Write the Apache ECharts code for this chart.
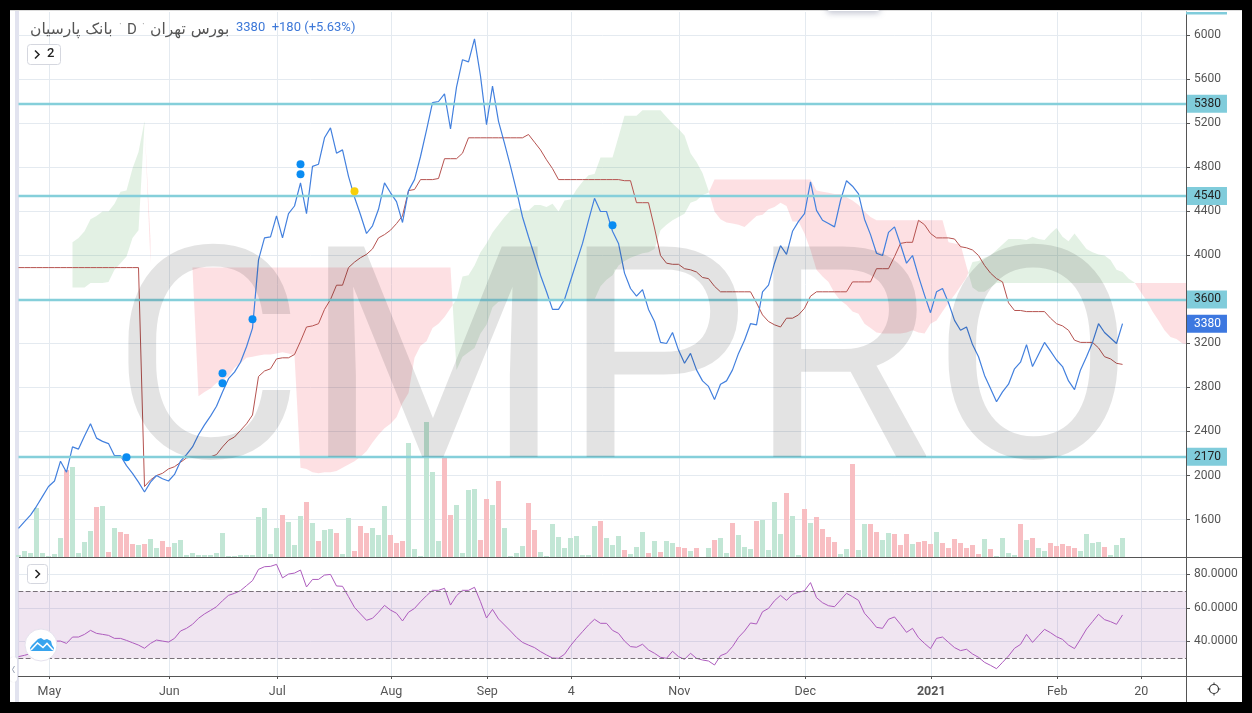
<!DOCTYPE html>
<html><head><meta charset="utf-8">
<style>html,body{margin:0;padding:0;background:#000;overflow:hidden}#c{width:1252px;height:713px}</style>
<script src="https://cdn.jsdelivr.net/npm/echarts@6/dist/echarts.min.js"></script>
</head><body><div id="c"></div>
<script>
const closePrice=[1520,1580,1640,1720,1810,1900,1950,2130,2030,2260,2240,2360,2470,2340,2310,2290,2180,2180,2090,2020,1940,1850,1940,2000,1970,1950,2010,2130,2190,2260,2370,2460,2540,2630,2760,2880,2940,3030,3170,3340,3960,4160,4170,4360,4160,4380,4450,4660,4380,4810,4830,5070,5160,4930,4960,4720,4530,4370,4200,4270,4420,4660,4570,4490,4300,4590,4690,4900,5140,5390,5400,5470,5150,5530,5780,5760,5970,5630,5190,5540,5220,5020,4810,4590,4350,4170,4000,3820,3670,3510,3510,3600,3770,3940,4110,4320,4520,4400,4400,4220,4110,3840,3700,3630,3690,3510,3400,3210,3200,3300,3140,3020,3110,2960,2860,2810,2690,2830,2860,2960,3110,3230,3380,3370,3670,3730,3930,4090,4010,4220,4310,4380,4670,4410,4320,4290,4260,4500,4680,4630,4560,4330,4190,4020,4000,4210,4260,4100,3930,4000,3810,3640,3480,3670,3700,3570,3410,3320,3350,3190,3080,2910,2790,2670,2760,2830,2970,3030,3190,2990,3100,3210,3130,3050,2990,2860,2780,2960,3080,3210,3380,3300,3250,3200,3380];
const kijun=[3890,3890,3890,3890,3890,3890,3890,3890,3890,3890,3890,3890,3890,3890,3890,3890,3890,3890,3890,3890,3890,1900,1960,2000,2020,2060,2080,2120,2160,2170,2170,2170,2170,2190,2260,2320,2350,2410,2470,2550,2900,2950,2970,3060,3070,3070,3100,3220,3350,3360,3380,3510,3600,3730,3730,3890,3940,3980,4010,4060,4160,4190,4230,4290,4360,4590,4600,4690,4690,4690,4700,4880,4880,4880,4930,5070,5070,5070,5070,5070,5070,5070,5070,5070,5070,5100,5030,4960,4870,4790,4690,4690,4690,4690,4690,4690,4690,4690,4690,4690,4690,4680,4680,4480,4480,4480,4250,4000,3930,3920,3920,3880,3870,3850,3800,3790,3720,3670,3670,3670,3670,3670,3670,3570,3460,3400,3370,3350,3430,3430,3460,3520,3630,3670,3670,3670,3670,3670,3670,3760,3760,3760,3760,3880,3880,3880,3990,4110,4120,4120,4320,4280,4200,4160,4160,4160,4150,4080,4070,4050,4000,3910,3840,3790,3760,3570,3500,3500,3490,3490,3490,3490,3430,3380,3360,3320,3230,3210,3210,3210,3160,3080,3060,3020,3010];
const spanA=[null,null,null,null,null,null,null,null,null,4120,4160,4220,4330,4360,4400,4400,4470,4580,4590,4790,4940,5220,3930,null,null,null,null,null,null,3885,2720,2760,2790,2840,2870,2900,2980,3020,3070,3080,3090,3100,3100,3110,3120,3110,3090,2070,2060,2030,2020,2030,2030,2040,2070,2100,2130,2170,2220,2300,2370,2430,2470,2530,2660,2750,3070,3180,3220,3340,3380,3440,3520,3600,3810,3820,3910,4030,4110,4210,4280,4350,4410,4430,4410,4410,4460,4460,4440,4470,4400,4500,4510,4600,4670,4730,4740,4890,4890,4890,5080,5270,5270,5270,5320,5320,5320,5320,5260,5200,5150,5090,4930,4850,4750,4590,4400,4330,4300,4290,4280,4260,4310,4360,4370,4420,4440,4480,4450,4310,4310,4200,4050,3870,3810,3760,3660,3590,3550,3490,3470,3380,3340,3300,3290,3290,3290,3290,3300,3320,3300,3290,3380,3410,3490,3570,3640,3720,3800,3940,3950,3980,4000,4050,4100,4150,4150,4150,4140,4170,4150,4140,4200,4250,4170,4130,4200,4130,4060,4030,4010,4000,3960,3870,3850,3790,3755,3670,3590,3490,3410,3320,3260,3240,3200,3190];
const spanB=[null,null,null,null,null,null,null,null,null,3710,3710,3710,3750,3750,3750,3760,3870,3930,3990,4160,4230,5200,4140,null,null,null,null,null,null,3890,3890,3890,3890,3890,3890,3890,3890,3890,3890,3890,3890,3890,3890,3890,3890,3890,3890,3890,3890,3890,3890,3890,3890,3890,3890,3890,3890,3890,3890,3890,3890,3890,3890,3890,3890,3890,3890,3890,3890,3890,3890,3890,3890,2960,3080,3120,3160,3290,3370,3530,3580,3590,3600,3600,3600,3600,3600,3600,3600,3600,3600,3600,3600,3600,3600,3600,3600,3720,3780,3820,3910,3950,3980,4000,4020,4030,4060,4230,4280,4320,4350,4380,4480,4500,4550,4570,4690,4690,4690,4690,4690,4690,4690,4690,4690,4690,4690,4690,4690,4690,4690,4690,4690,4590,4580,4570,4560,4560,4530,4500,4460,4400,4350,4320,4320,4320,4320,4320,4320,4320,4320,4320,4320,4320,4320,4120,4110,4100,3900,3710,3670,3670,3710,3750,3750,3750,3750,3750,3750,3750,3750,3750,3750,3750,3750,3750,3750,3750,3750,3750,3750,3750,3750,3750,3750,3750,3750,3750,3750,3750,3750,3750,3750,3750,3750,3750];
const volume=[2,6,4,49,4,1,3,19,87,90,4,15,26,50,51,5,29,25,23,13,12,13,18,9,16,10,14,17,2,4,2,2,2,4,24,1,1,2,2,2,40,49,3,29,42,35,12,41,55,34,16,27,28,24,3,39,6,31,24,29,22,51,22,14,16,114,8,1,135,85,16,100,42,52,4,67,68,17,58,52,76,29,1,4,11,54,27,5,1,33,20,9,19,21,2,2,31,36,19,12,21,7,3,10,25,4,16,5,16,14,10,9,6,9,0,9,17,19,4,34,22,10,8,36,37,7,55,23,64,41,2,48,34,40,28,20,15,3,8,93,7,33,33,25,17,24,23,12,23,13,15,16,13,25,14,9,18,14,9,12,3,18,8,1,19,4,2,33,17,19,9,6,14,11,13,11,9,6,23,14,15,10,2,12,19];
const volumeDownDays=[8,13,15,17,18,19,21,24,25,44,48,50,53,56,57,58,62,63,64,71,72,77,78,80,85,86,97,101,105,107,110,111,113,116,119,123,128,131,133,134,135,136,139,142,143,146,147,148,150,151,152,154,155,156,157,158,159,160,162,167,169,172,173,174,175,176,181];
const rsi=[30.9,31.7,32.7,34.9,37.8,39.4,40.2,40.2,38.8,42.6,42.6,44.2,46.6,44.8,44.2,43.6,41.8,41.8,40.6,39.2,37.8,35.9,38.8,40.8,40.2,39.6,41.8,46.2,47.8,50.2,53.8,56.4,58.5,60.7,64.3,67.5,68.7,70.3,73.3,76.3,83,84.6,84.8,86,77.9,80.2,80.8,82.6,72.5,77,77,79.6,80,73.1,72.9,66.7,60.3,56.4,52.6,53.8,57.4,61.5,58.7,56.8,52.2,57.4,59.7,63.7,67.3,70.5,70.5,71.7,61.7,67.3,70.5,70.5,72.3,63.7,54,59.1,53.4,49.8,46.2,42.4,39.4,37.8,36.3,33.9,31.9,30.1,29.9,32.3,37.4,41.8,45.8,49.8,53.2,50.8,50.8,46.6,44.8,40.2,36.9,36.5,38.3,34.9,32.9,30.5,29.9,34.1,30.9,29.3,32.9,29.9,28.9,28.3,25.9,31.5,32.9,36.9,42.4,46.2,51,50.4,57.7,59.7,64.3,67.5,64.5,68.1,69.3,70.3,75.1,66.1,63.1,61.3,60.7,64.7,68.7,66.7,64.5,56.8,52.8,48.4,47.8,53.2,54.6,50.2,45.4,47.8,42.2,38.8,35.7,41.8,42.6,39.4,36.3,34.5,35.3,32.5,30.5,27.5,25.7,23.7,27.5,31.3,35.9,38.2,44.2,39.4,43.4,47.2,45.2,42.8,41.2,37.8,35.7,41.4,47.4,51.8,56.2,53,51.8,50.2,55.8];
const levels=[5380,4540,3600,2170];
const lastClose=3380;
const priceTicks=[1600,2000,2400,2800,3200,3600,4000,4400,4800,5200,5600,6000];
const rsiTicks=[40,60,80];
const rsiBounds=[30,70];
const timeTickDays=[5,25,43,62,78,92,110,131,152,173,187];
const timeTickLabels=['May','Jun','Jul','Aug','Sep','4','Nov','Dec','2021','Feb','20'];
const blueDots=[[18,2165],[34,2929],[34,2838],[39,3420],[47,4829],[47,4738],[99,4274]];
const yellowDots=[[56,4584]];
const titleLeft='بانک پارسیان';
const titleMid='D';
const titleRight='بورس تهران';
const titlePrice='3380  +180 (+5.63%)';

const tickOffset=0.13;
const timeTicks=timeTickDays.map(d=>d+tickOffset);
const xMax=194.58;
const font='Roboto, "Liberation Sans", sans-serif';
const axisTextColor='#555';
const gridColor='#e4eaf0';
const series2=a=>a.map((v,i)=>[i,v]);

function cloudRuns(){
  const runs=[];let cur=null;
  const close=()=>{if(cur){runs.push(cur);cur=null;}};
  for(let i=0;i<spanA.length;i++){
    const a=spanA[i],b=spanB[i];
    if(a==null||b==null){close();continue;}
    const up=a>=b;
    if(cur&&cur.up!==up){
      const a0=spanA[i-1],b0=spanB[i-1];
      const t=(a0-b0)/((a0-b0)-(a-b));
      const p=[i-1+t,a0+(a-a0)*t];
      cur.top.push(p);runs.push(cur);
      cur={up,top:[p],bot:[]};
    }
    if(!cur)cur={up,top:[],bot:[]};
    cur.top.push([i,a]);cur.bot.push([i,b]);
  }
  close();
  return runs.map(r=>({up:r.up,pts:r.top.concat(r.bot.slice().reverse())}));
}
const runs=cloudRuns();

const chart=echarts.init(document.getElementById('c'),null,{renderer:'canvas'});
const downSet=new Set(volumeDownDays);
const txt=(x,y,text,o)=>({type:'text',z:60,silent:true,x,y,style:Object.assign({text,fill:'#555',font:'13px '+font,textVerticalAlign:'middle',textAlign:'left'},o||{})});
const chevron=(x,y,dir)=>({type:'polyline',z:63,silent:true,shape:{points:[[x-dir*2,y-4],[x+dir*2,y],[x-dir*2,y+4]]},style:{stroke:'#222',lineWidth:1.5,fill:null}});

const option={
  animation:false,
  backgroundColor:'#000',
  grid:[
    {left:18.5,top:12,width:1167.5,height:545,containLabel:false},
    {left:18.5,top:558,width:1167.5,height:118,containLabel:false}
  ],
  xAxis:[
    {gridIndex:0,type:'value',min:0,max:xMax,axisLine:{show:false},axisLabel:{show:false},
     axisTick:{show:false,customValues:timeTicks},splitLine:{show:true,lineStyle:{color:gridColor,width:1}}},
    {gridIndex:1,type:'value',min:0,max:xMax,axisLine:{onZero:false,lineStyle:{color:'#555',width:1}},
     axisTick:{show:true,length:3,lineStyle:{color:'#555'},customValues:timeTicks},
     axisLabel:{show:true,customValues:timeTicks,margin:9,color:axisTextColor,fontFamily:font,fontSize:12.5,showMinLabel:true,showMaxLabel:true,
       formatter:v=>{const k=timeTicks.findIndex(t=>Math.abs(t-v)<0.01);const s=timeTickLabels[k];return s==='2021'?'{b|2021}':s;},
       rich:{b:{fontWeight:'bold',fontSize:12.5,color:axisTextColor,fontFamily:font}}},
     splitLine:{show:true,lineStyle:{color:gridColor,width:1}}}
  ],
  yAxis:[
    {gridIndex:0,type:'value',position:'right',min:1259.1,max:6213.6,
     axisLine:{show:true,onZero:false,lineStyle:{color:'#555'}},
     axisTick:{show:true,length:4,lineStyle:{color:'#555'},customValues:priceTicks},
     axisLabel:{show:true,customValues:priceTicks,margin:8,color:axisTextColor,fontFamily:font,fontSize:12,padding:[5,0,0,0],formatter:v=>String(v)},
     splitLine:{show:true,lineStyle:{color:gridColor,width:1}}},
    {gridIndex:0,type:'value',min:0,max:545,show:false,splitLine:{show:false}},
    {gridIndex:1,type:'value',position:'right',min:19.34,max:89.8,
     axisLine:{show:true,onZero:false,lineStyle:{color:'#555'}},
     axisTick:{show:true,length:4,lineStyle:{color:'#555'},customValues:rsiTicks},
     axisLabel:{show:true,customValues:rsiTicks,margin:8,color:axisTextColor,fontFamily:font,fontSize:12,padding:[5,0,0,0],formatter:v=>v.toFixed(4)},
     splitLine:{show:true,lineStyle:{color:gridColor,width:1}}}
  ],
  series:[
    {type:'custom',name:'Cloud',xAxisIndex:0,yAxisIndex:0,z:1,clip:true,silent:true,
     data:runs.map((r,k)=>[k,2000]),
     renderItem:(p,api)=>{const r=runs[p.dataIndex];
       return {type:'polygon',shape:{points:r.pts.map(q=>api.coord(q))},
         style:{fill:r.up?'rgba(67,160,71,0.15)':'rgba(245,60,75,0.155)',stroke:null}};}},
    {type:'bar',name:'Volume',xAxisIndex:0,yAxisIndex:1,barWidth:5,z:1,silent:true,
     data:volume.map((v,i)=>({value:[i,v],itemStyle:{color:downSet.has(i)?'#f8bec2':'#c2e6d5'}}))},
    {type:'line',name:'Levels',xAxisIndex:0,yAxisIndex:0,z:2,silent:true,symbol:'none',data:[],
     markLine:{silent:true,symbol:'none',animation:false,precision:0,
       lineStyle:{type:'solid',color:'#85cfda',width:2.4},
       label:{show:true,position:'end',distance:0,formatter:p=>String(p.value),color:'#222',fontFamily:font,fontSize:12,
         backgroundColor:'#80ccdb',padding:[3,6,3,8],lineHeight:12},
       data:levels.map(v=>({yAxis:v})).concat([{yAxis:lastClose,lineStyle:{color:'rgba(0,0,0,0)',width:1},
         label:{color:'#fff',backgroundColor:'#3d78e0'}}])}},
    {type:'line',name:'Kijun',xAxisIndex:0,yAxisIndex:0,z:3,symbol:'none',silent:true,lineStyle:{color:'#b5524f',width:1},data:series2(kijun)},
    {type:'line',name:'Close',xAxisIndex:0,yAxisIndex:0,z:4,symbol:'none',silent:true,lineStyle:{color:'#4380de',width:1.2},data:series2(closePrice)},
    {type:'scatter',name:'Signals',xAxisIndex:0,yAxisIndex:0,z:5,symbolSize:8,silent:true,itemStyle:{color:'#0a8cf2',opacity:1},data:blueDots},
    {type:'scatter',name:'Signals2',xAxisIndex:0,yAxisIndex:0,z:5,symbolSize:8,silent:true,itemStyle:{color:'#f7cf0a',opacity:1},data:yellowDots},
    {type:'line',name:'RSI',xAxisIndex:1,yAxisIndex:2,z:3,symbol:'none',silent:true,lineStyle:{color:'#ad5cbd',width:1},data:series2(rsi),
     markArea:{silent:true,itemStyle:{color:'rgba(140,55,150,0.13)'},data:[[{yAxis:rsiBounds[0]},{yAxis:rsiBounds[1]}]]},
     markLine:{silent:true,symbol:'none',label:{show:false},lineStyle:{type:'dashed',color:'#787078',width:1.2},data:rsiBounds.map(v=>({yAxis:v}))}}
  ],
  graphic:[
    {type:'rect',z:-5,silent:true,shape:{x:10,y:10,width:1232,height:692},style:{fill:'#fff'}},
    {type:'rect',z:-4,silent:true,shape:{x:15,y:11,width:4,height:691},style:{fill:'#e2e3ef'}},
    {type:'rect',z:-4,silent:true,shape:{x:10,y:10,width:1232,height:1},style:{fill:'#dcdcdc'}},
    {type:'rect',z:61,silent:true,shape:{x:19,y:557,width:1223,height:1},style:{fill:'#555'}},
    {type:'rect',z:61,silent:true,shape:{x:19,y:676,width:1223,height:1},style:{fill:'#555'}},
    {type:'rect',z:61,silent:true,shape:{x:1186,y:12,width:1,height:690},style:{fill:'#555'}},
    {type:'rect',z:61,silent:true,shape:{x:1186,y:12,width:41,height:2.5},style:{fill:'#80ccdb'}},
    {type:'rect',z:55,silent:true,shape:{x:827,y:4,width:53,height:7,r:3},style:{fill:'#fff',shadowBlur:6,shadowColor:'rgba(60,70,110,0.35)',shadowOffsetY:2}},
    {type:'rect',z:56,silent:true,shape:{x:0,y:0,width:1252,height:10},style:{fill:'#000'}},
    {type:'text',z:50,silent:true,x:623,y:383,style:{text:'CMPRO',fill:'rgba(0,0,0,0.11)',font:'400 296px Roboto, sans-serif',textAlign:'center',textVerticalAlign:'middle'}},
    txt(30,30,titleLeft,{font:'15.5px "DejaVu Sans", sans-serif',fill:'#555'}),
    txt(119,25,'·',{font:'11px '+font,fill:'#aaa'}),
    txt(127,30,titleMid,{font:'15px '+font,fill:'#555'}),
    txt(142,25,'·',{font:'11px '+font,fill:'#aaa'}),
    txt(150,30,titleRight,{font:'15.5px "DejaVu Sans", sans-serif',fill:'#555'}),
    txt(236,28,titlePrice,{font:'13px '+font,fill:'#3d78d8'}),
    {type:'rect',z:60,silent:true,shape:{x:27.5,y:44.5,width:33,height:20,r:3},style:{fill:'#fff',stroke:'#d5d7df',lineWidth:1}},
    chevron(37,54.5,1),
    txt(47,54,'2',{font:'500 13px '+font,fill:'#222'}),
    {type:'rect',z:60,silent:true,shape:{x:27.5,y:564.5,width:20,height:19,r:3},style:{fill:'#fff',stroke:'#d5d7df',lineWidth:1}},
    chevron(37.5,574,1),
    {type:'circle',z:60,silent:true,shape:{cx:41,cy:645,r:16},style:{fill:'#fff',stroke:'#e6e3ee',lineWidth:1}},
    {type:'polygon',z:61,silent:true,shape:{points:[[31,651],[30,648],[32,645],[38,639],[41,638],[44,640],[47,639],[51,641],[52,645],[54,648],[53,651]]},style:{fill:'#38a4ee'}},
    {type:'polyline',z:62,silent:true,shape:{points:[[31,650],[37.5,643],[43,647.5],[47,643.5],[53,650]]},style:{stroke:'#fff',lineWidth:1.6,fill:null}},
    {type:'rect',z:62,silent:true,shape:{x:10,y:657,width:7,height:25,r:3},style:{fill:'#fff',shadowBlur:1,shadowColor:'rgba(0,0,0,.15)'}},
    {type:'polyline',z:63,silent:true,shape:{points:[[14.5,666],[12.5,669.5],[14.5,673]]},style:{stroke:'#9aa3b5',lineWidth:1,fill:null}},
    {type:'circle',z:60,silent:true,shape:{cx:1214,cy:689,r:4.5},style:{fill:'#fff',stroke:'#333',lineWidth:1.2}},
    {type:'polyline',z:60,silent:true,shape:{points:[[1214,682.5],[1214,684.5]]},style:{stroke:'#333',lineWidth:1}},
    {type:'polyline',z:60,silent:true,shape:{points:[[1214,693.5],[1214,695.5]]},style:{stroke:'#333',lineWidth:1}},
    {type:'polyline',z:60,silent:true,shape:{points:[[1207.5,689],[1209.5,689]]},style:{stroke:'#333',lineWidth:1}},
    {type:'polyline',z:60,silent:true,shape:{points:[[1218.5,689],[1220.5,689]]},style:{stroke:'#333',lineWidth:1}}
  ]
};
chart.setOption(option);
</script></body></html>
